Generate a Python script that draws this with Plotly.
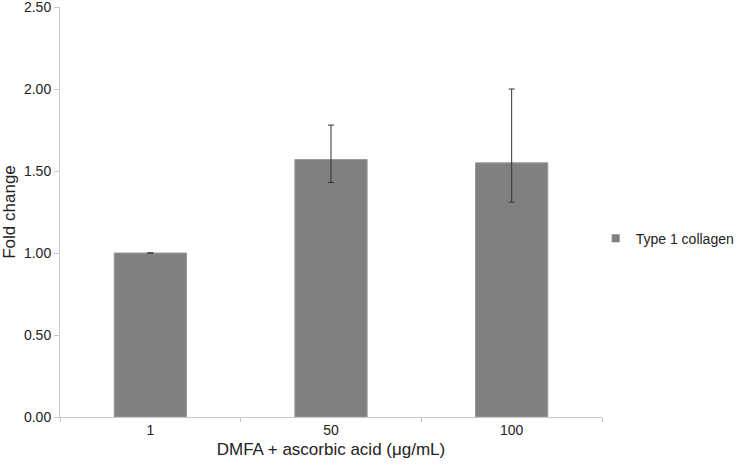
import plotly.graph_objects as go

# Data
doses = ['1', '50', '100']
fold_change = [1.00, 1.57, 1.55]
err_up = [0.0, 0.21, 0.45]
err_down = [0.0, 0.14, 0.24]
series_name = 'Type 1 collagen'

fig = go.Figure()
fig.add_trace(go.Bar(
    x=doses,
    y=fold_change,
    name=series_name,
    marker=dict(color='#808080', line=dict(color='#9a9a9a', width=1)),
    width=0.4,
    error_y=dict(type='data', symmetric=False, array=err_up, arrayminus=err_down,
                 color='#333333', thickness=1, width=3),
    showlegend=False,
))
# small square legend key, like the original
fig.add_trace(go.Scatter(
    x=[None], y=[None], mode='markers', name=series_name,
    marker=dict(symbol='square', size=8, color='#808080'),
    showlegend=True,
))

fig.update_layout(
    width=740, height=468,
    margin=dict(l=60, r=138, t=7, b=51, autoexpand=False),
    paper_bgcolor='white',
    plot_bgcolor='white',
    font=dict(family='Liberation Sans, Arial, sans-serif', size=14, color='#222222'),
    showlegend=True,
    legend=dict(xref='container', yref='container', x=0.805, y=0.49,
                xanchor='left', yanchor='middle',
                font=dict(size=14), itemwidth=30),
    xaxis=dict(
        title=dict(text='DMFA + ascorbic acid (μg/mL)', standoff=6),
        automargin=False,
        showline=True, linecolor='#c8c8c8', linewidth=1,
        ticks='outside', tickson='boundaries', ticklen=4, tickcolor='#c8c8c8',
        showgrid=False,
    ),
    yaxis=dict(
        title=dict(text='Fold change', standoff=6),
        automargin=False,
        range=[0, 2.5], dtick=0.5, tickformat='.2f',
        ticklabeloverflow='allow',
        showline=True, linecolor='#c8c8c8', linewidth=1,
        ticks='outside', ticklen=5, tickcolor='#c8c8c8',
        showgrid=False, zeroline=False,
    ),
)

# page body has an 8px default margin; drop it so the chart sits at 0,0
fig.write_html('out.html', config={'displayModeBar': False},
               post_script="document.body.style.margin='0';")
